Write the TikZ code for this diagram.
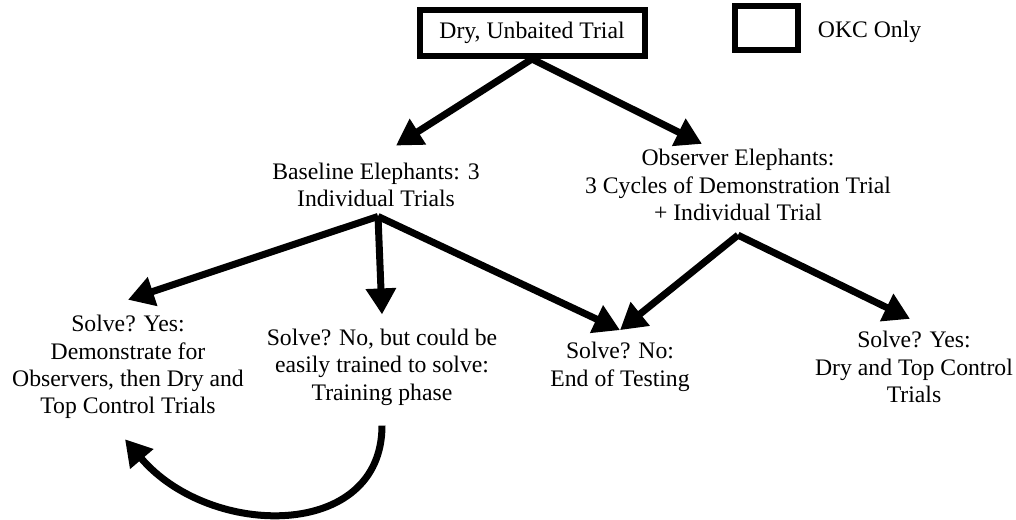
\documentclass[tikz,border=0pt]{standalone}
\usepackage{fontspec}
\setmainfont{Liberation Serif}
\usepackage{tikz}
\usetikzlibrary{arrows.meta, positioning, calc}

\begin{document}
\begin{tikzpicture}[x=0.5pt, y=-0.5pt,
        okbox/.style={rectangle, draw=black, line width=3pt, minimum width=112.5pt, minimum height=23pt, inner sep=0pt},
        lbl/.style={align=center, inner sep=0pt, font=\fontsize{11.85pt}{13.7pt}\selectfont},
        arrow/.style={-{Triangle[length=13pt, width=14.5pt]}, line width=3.5pt}
    ]
        \useasboundingbox (0,0) rectangle (1016,519);

        \node[okbox, lbl] (top) at (532,33) {Dry, Unbaited Trial};
        \node[okbox, minimum width=31.5pt, minimum height=22pt] (key) at (766,28) {};
        \node[lbl, right=8.5pt of key, yshift=-2pt] (keytxt) {OKC Only};

        \node[lbl] (base) at (376,185) {Baseline Elephants: 3\\Individual Trials};
        \node[lbl] (obs) at (738,185) {Observer Elephants:\\3 Cycles of Demonstration Trial\\+ Individual Trial};

        \node[lbl] (yes) at (128,367) {Solve? Yes:\\Demonstrate for\\Observers, then Dry and\\Top Control Trials};
        \node[lbl] (train) at (382,367) {Solve? No, but could be\\easily trained to solve:\\Training phase};
        \node[lbl] (nosolve) at (620,367) {Solve? No:\\End of Testing};
        \node[lbl] (dry) at (914,367) {Solve? Yes:\\Dry and Top Control\\Trials};

        \draw[arrow] (top.south) -- ($(base.north)+(20,-17)$);
        \draw[arrow] (top.south) -- ($(obs.north)+(-36,-5)$);

        \draw[arrow] ($(base.south)+(2,9)$) -- ($(yes.north)+(0,-15)$);
        \draw[arrow] ($(base.south)+(2,9)$) -- ($(train.north)+(0,-14)$);
        \draw[arrow] ($(base.south)+(2,9)$) -- ($(nosolve.north)+(0,-12)$);

        \draw[arrow] ($(obs.south)+(0,14)$) -- ($(nosolve.north)+(0,-12)$);
        \draw[arrow] ($(obs.south)+(0,14)$) -- ($(dry.north)+(-4,-12)$);

        \draw[arrow] ($(train.south)+(0,20)$) .. controls +(0,115) and +(85,100) .. ($(yes.south)+(-3,20)$);
    \end{tikzpicture}
\end{document}
